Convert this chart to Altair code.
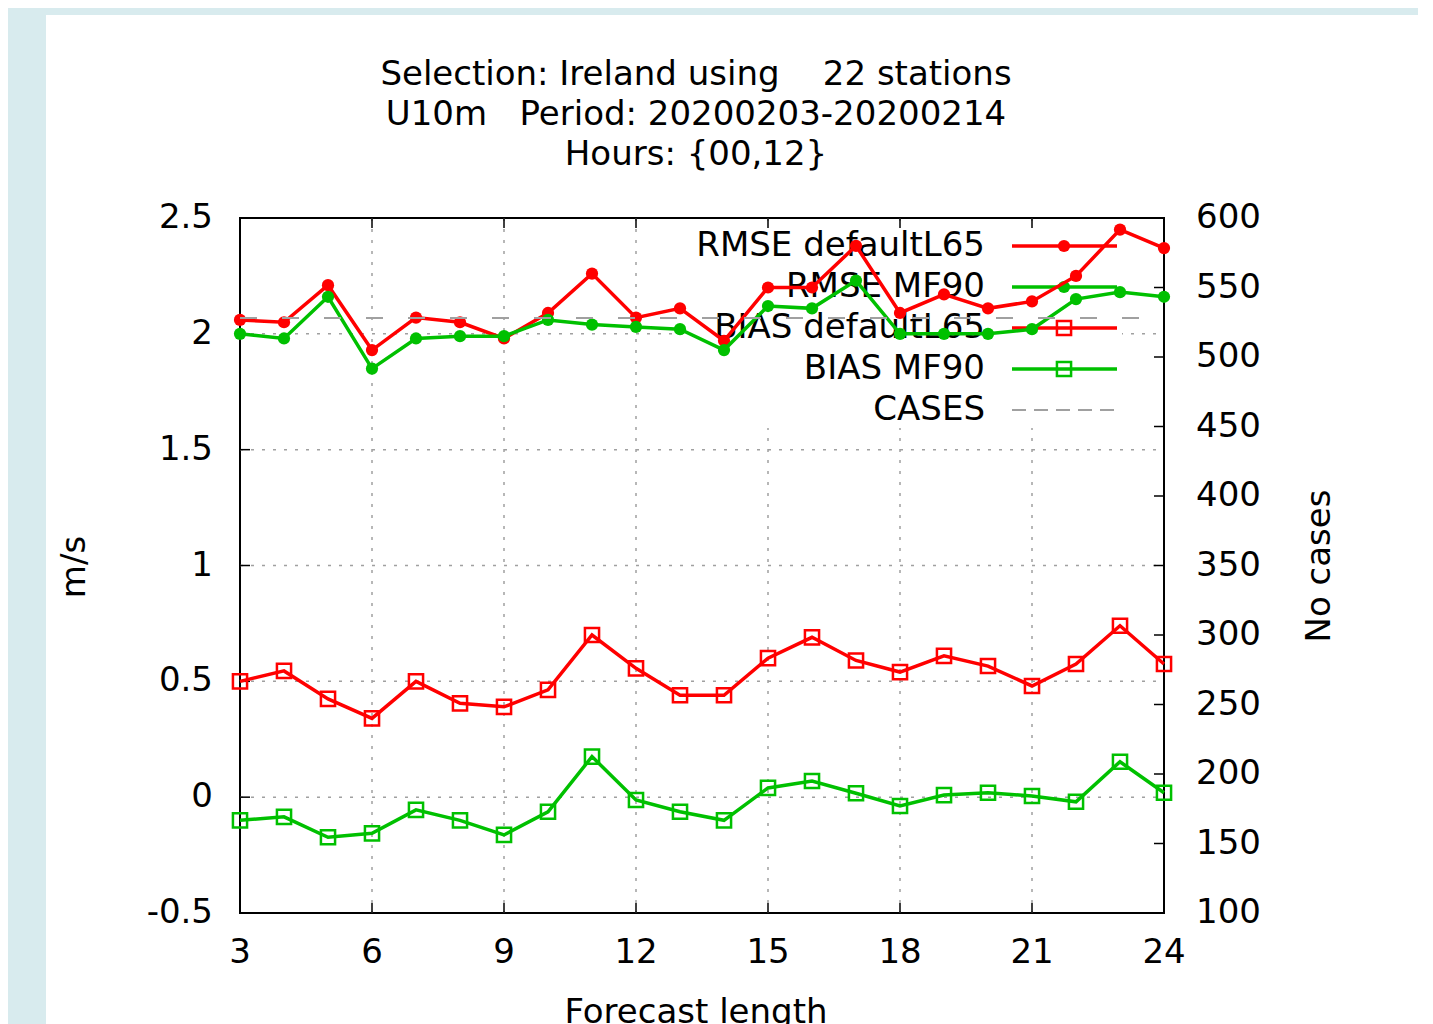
import altair as alt
import pandas as pd

# ---------------- data ----------------
hours = [3, 4, 5, 6, 7, 8, 9, 10, 11, 12, 13, 14, 15, 16, 17, 18, 19, 20, 21, 22, 23, 24]
rmse_l65 = [2.06, 2.05, 2.21, 1.93, 2.07, 2.05, 1.98, 2.09, 2.26, 2.07, 2.11,
            1.97, 2.20, 2.20, 2.38, 2.09, 2.17, 2.11, 2.14, 2.25, 2.45, 2.37]
rmse_mf90 = [2.00, 1.98, 2.16, 1.85, 1.98, 1.99, 1.99, 2.06, 2.04, 2.03, 2.02,
             1.93, 2.12, 2.11, 2.23, 2.00, 2.00, 2.00, 2.02, 2.15, 2.18, 2.16]
bias_l65 = [0.50, 0.545, 0.424, 0.34, 0.50, 0.405, 0.39, 0.463, 0.70, 0.556, 0.44,
            0.44, 0.60, 0.69, 0.59, 0.54, 0.61, 0.566, 0.48, 0.575, 0.74, 0.575]
bias_mf90 = [-0.10, -0.085, -0.173, -0.156, -0.055, -0.10, -0.163, -0.063, 0.175, -0.012, -0.063,
             -0.10, 0.04, 0.07, 0.017, -0.038, 0.009, 0.019, 0.005, -0.02, 0.153, 0.019]
cases = [528, 528, 528, 528, 528, 528, 528, 528, 528, 528, 528,
         528, 528, 528, 528, 528, 528, 528, 528, 528, 528, 528]

series_names = ["RMSE defaultL65", "RMSE MF90", "BIAS defaultL65", "BIAS MF90", "CASES"]
x_ticks = [3, 6, 9, 12, 15, 18, 21, 24]
x_tick_labels = ["3", "6", "9", "12", "15", "18", "21", "24"]
y_ticks = [-0.5, 0, 0.5, 1, 1.5, 2, 2.5]
y_tick_labels = ["-0.5", "0", "0.5", "1", "1.5", "2", "2.5"]
case_ticks = [100, 150, 200, 250, 300, 350, 400, 450, 500, 550, 600]
case_tick_labels = ["100", "150", "200", "250", "300", "350", "400", "450", "500", "550", "600"]
x_title = "Forecast length"
y_title = "m/s"
y2_title = "No cases"
title_lines = ["Selection: Ireland using\u00a0\u00a0\u00a0\u00a022 stations",
               "U10m\u00a0\u00a0\u00a0Period: 20200203-20200214",
               "Hours: {00,12}"]

# ---------------- styling ----------------
W, H = 924, 695
FONT = "DejaVu Sans"
FS = 34
RED, GREEN, GRAY, GRID = "#ff0000", "#00c000", "#a0a0a0", "#a0a0a0"
BLUE_BG = "#d8ebee"
LW = 3.5

df = pd.DataFrame({"hour": hours, "rmse_l65": rmse_l65, "rmse_mf90": rmse_mf90,
                   "bias_l65": bias_l65, "bias_mf90": bias_mf90, "cases": cases})

xscale = alt.Scale(domain=[3, 24], nice=False, zero=False)
yscale = alt.Scale(domain=[-0.5, 2.5], nice=False, zero=False)
cscale = alt.Scale(domain=[100, 600], nice=False, zero=False)

one = pd.DataFrame({"a": [0]})

# light-blue page surround
strips = [
    alt.Chart(one).mark_rect(color=BLUE_BG).encode(
        x=alt.value(-250), x2=alt.value(-194), y=alt.value(-230), y2=alt.value(900)),
    alt.Chart(one).mark_rect(color=BLUE_BG).encode(
        x=alt.value(-250), x2=alt.value(1300), y=alt.value(-230), y2=alt.value(-203)),
]

# grid
xgrid = alt.Chart(pd.DataFrame({"t": x_ticks[1:-1]})).mark_rule(
    color=GRID, strokeDash=[3, 8], strokeWidth=1.5).encode(
    x=alt.X("t:Q", scale=xscale, axis=None), y=alt.value(0), y2=alt.value(H))
ygrid = alt.Chart(pd.DataFrame({"t": y_ticks[1:-1]})).mark_rule(
    color=GRID, strokeDash=[3, 8], strokeWidth=1.5).encode(
    y=alt.Y("t:Q", scale=yscale, axis=None), x=alt.value(0), x2=alt.value(W))

# opaque key box
keybox = alt.Chart(one).mark_rect(color="white").encode(
    x=alt.value(690 - 240), x2=alt.value(1122 - 240), y=alt.value(224 - 218), y2=alt.value(428 - 218))

# inward ticks
TK = 10
xt_df = pd.DataFrame({"t": x_ticks, "lab": x_tick_labels})
yt_df = pd.DataFrame({"t": y_ticks, "lab": y_tick_labels})
ct_df = pd.DataFrame({"t": case_ticks, "lab": case_tick_labels})
ticks_top = alt.Chart(xt_df).mark_rule(color="black", strokeWidth=1.5).encode(
    x=alt.X("t:Q", scale=xscale, axis=None), y=alt.value(0), y2=alt.value(TK))
ticks_bot = alt.Chart(xt_df).mark_rule(color="black", strokeWidth=1.5).encode(
    x=alt.X("t:Q", scale=xscale, axis=None), y=alt.value(H - TK), y2=alt.value(H))
ticks_left = alt.Chart(yt_df).mark_rule(color="black", strokeWidth=1.5).encode(
    y=alt.Y("t:Q", scale=yscale, axis=None), x=alt.value(0), x2=alt.value(TK))
ticks_right = alt.Chart(ct_df).mark_rule(color="black", strokeWidth=1.5).encode(
    y=alt.Y("t:Q", scale=cscale, axis=None), x=alt.value(W - TK), x2=alt.value(W))

# axis labels (text placed through the scales)
txt = dict(fontSize=FS, font=FONT, color="black")
xlabels = alt.Chart(xt_df).mark_text(align="center", baseline="alphabetic", **txt).encode(
    x=alt.X("t:Q", scale=xscale, axis=None), y=alt.value(745), text="lab:N")
ylabels = alt.Chart(yt_df).mark_text(align="right", baseline="middle", **txt).encode(
    y=alt.Y("t:Q", scale=yscale, axis=None), x=alt.value(-27), text="lab:N")
clabels = alt.Chart(ct_df).mark_text(align="left", baseline="middle", **txt).encode(
    y=alt.Y("t:Q", scale=cscale, axis=None), x=alt.value(956), text="lab:N")
xtitle = alt.Chart(pd.DataFrame({"s": [x_title]})).mark_text(
    align="center", baseline="alphabetic", **txt).encode(
    text="s:N", x=alt.value(456), y=alt.value(805))
ytitle = alt.Chart(pd.DataFrame({"s": [y_title]})).mark_text(
    align="center", baseline="alphabetic", angle=270, **txt).encode(
    text="s:N", x=alt.value(-155), y=alt.value(349))
y2title = alt.Chart(pd.DataFrame({"s": [y2_title]})).mark_text(
    align="center", baseline="alphabetic", angle=270, **txt).encode(
    text="s:N", x=alt.value(1090), y=alt.value(348))

# chart title (three centred lines)
title_base_y = [85, 125, 165]
title_layers = [
    alt.Chart(pd.DataFrame({"s": [line]})).mark_text(
        align="center", baseline="alphabetic", **txt).encode(
        text="s:N", x=alt.value(456), y=alt.value(title_base_y[k] - 218))
    for k, line in enumerate(title_lines)
]

specs = [
    ("rmse_l65", RED, "circle", True),
    ("rmse_mf90", GREEN, "circle", True),
    ("bias_l65", RED, "square", False),
    ("bias_mf90", GREEN, "square", False),
]


def marker(data, shape, filled, color, xenc, yenc):
    if filled:
        return alt.Chart(data).mark_point(shape=shape, filled=True, size=150,
                                          color=color, opacity=1).encode(x=xenc, y=yenc)
    return alt.Chart(data).mark_point(shape=shape, filled=False, size=200, color=color,
                                      strokeWidth=2.5, opacity=1).encode(x=xenc, y=yenc)


series_layers = []
for col, color, shape, filled in specs:
    xe = alt.X("hour:Q", scale=xscale, axis=None)
    ye = alt.Y(f"{col}:Q", scale=yscale, axis=None)
    ln = alt.Chart(df).mark_line(color=color, strokeWidth=LW).encode(x=xe, y=ye)
    series_layers += [ln, marker(df, shape, filled, color, xe, ye)]

# key entries
row_y = [246, 287, 328, 369, 410]
key_layers = []
for i, name in enumerate(series_names):
    yy = row_y[i] - 218
    nd = pd.DataFrame({"name": [name]})
    key_layers.append(alt.Chart(nd).mark_text(align="right", baseline="middle", **txt).encode(
        text="name:N", x=alt.value(985 - 240), y=alt.value(yy)))
    if name == "CASES":
        key_layers.append(alt.Chart(nd).mark_rule(color=GRAY, strokeWidth=2, strokeDash=[14, 8]).encode(
            x=alt.value(1012 - 240), x2=alt.value(1117 - 240), y=alt.value(yy)))
    else:
        col, color, shape, filled = specs[i]
        key_layers.append(alt.Chart(nd).mark_rule(color=color, strokeWidth=LW).encode(
            x=alt.value(1012 - 240), x2=alt.value(1117 - 240), y=alt.value(yy)))
        key_layers.append(marker(nd, shape, filled, color, alt.value(1064 - 240), alt.value(yy)))

left = alt.layer(*strips, xgrid, ygrid, keybox, ticks_top, ticks_bot, ticks_left,
                 xlabels, ylabels, xtitle, ytitle, y2title, *title_layers,
                 *key_layers, *series_layers)

cases_line = alt.Chart(df).mark_line(color=GRAY, strokeWidth=2, strokeDash=[17, 25]).encode(
    x=alt.X("hour:Q", scale=xscale, axis=None),
    y=alt.Y("cases:Q", scale=cscale, axis=None))
right = alt.layer(cases_line, ticks_right, clabels)

chart = alt.layer(left, right).resolve_scale(y="independent").properties(
    width=W, height=H,
    padding={"left": 232, "top": 210, "right": 254, "bottom": 111},
    autosize="none",
    background="white",
).configure_view(stroke="black", strokeWidth=2, fill="white")

chart.save("out.html", embed_options={"renderer": "svg", "actions": False})
